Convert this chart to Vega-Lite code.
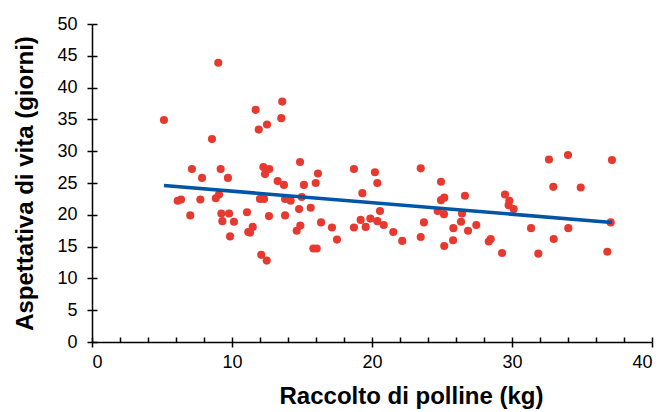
{
  "$schema": "https://vega.github.io/schema/vega-lite/v6.json",
  "width": 560,
  "height": 318,
  "autosize": "none",
  "padding": {"left": 92, "top": 24, "right": 16, "bottom": 70},
  "background": "white",
  "config": {
    "view": {"stroke": null},
    "font": "Liberation Sans",
    "axis": {
      "grid": false,
      "domainColor": "black",
      "tickColor": "black",
      "labelColor": "black",
      "titleColor": "black",
      "labelFont": "Liberation Sans",
      "titleFont": "Liberation Sans",
      "domainWidth": 1.5,
      "tickWidth": 1.5
    }
  },
  "datasets": {
    "points": [
      {"pollen": 9.02, "life": 43.9}, {"pollen": 5.14, "life": 34.9}, {"pollen": 8.57, "life": 31.9},
      {"pollen": 11.69, "life": 36.5}, {"pollen": 13.59, "life": 37.8}, {"pollen": 13.52, "life": 35.2},
      {"pollen": 12.5, "life": 34.2}, {"pollen": 11.91, "life": 33.4}, {"pollen": 14.86, "life": 28.3},
      {"pollen": 7.14, "life": 27.2}, {"pollen": 7.86, "life": 25.8}, {"pollen": 9.19, "life": 27.2},
      {"pollen": 9.71, "life": 25.8}, {"pollen": 12.24, "life": 27.5}, {"pollen": 12.66, "life": 27.2},
      {"pollen": 12.36, "life": 26.4}, {"pollen": 13.26, "life": 25.3}, {"pollen": 13.71, "life": 24.7},
      {"pollen": 6.12, "life": 22.2}, {"pollen": 6.36, "life": 22.4}, {"pollen": 7.74, "life": 22.4},
      {"pollen": 8.84, "life": 22.6}, {"pollen": 9.07, "life": 23.2}, {"pollen": 12.0, "life": 22.5},
      {"pollen": 12.29, "life": 22.5}, {"pollen": 13.79, "life": 22.5}, {"pollen": 14.19, "life": 22.2},
      {"pollen": 7.02, "life": 19.9}, {"pollen": 9.24, "life": 20.2}, {"pollen": 9.79, "life": 20.2},
      {"pollen": 9.31, "life": 19.0}, {"pollen": 10.14, "life": 18.9}, {"pollen": 11.07, "life": 20.4},
      {"pollen": 12.64, "life": 19.8}, {"pollen": 13.79, "life": 19.9}, {"pollen": 11.48, "life": 18.1},
      {"pollen": 11.16, "life": 17.3}, {"pollen": 11.29, "life": 17.2}, {"pollen": 9.86, "life": 16.6},
      {"pollen": 14.62, "life": 17.5}, {"pollen": 12.09, "life": 13.7}, {"pollen": 12.48, "life": 12.8},
      {"pollen": 16.14, "life": 26.5}, {"pollen": 15.14, "life": 24.7}, {"pollen": 15.98, "life": 25.0},
      {"pollen": 14.98, "life": 22.8}, {"pollen": 14.79, "life": 20.9}, {"pollen": 15.62, "life": 21.1},
      {"pollen": 16.36, "life": 18.8}, {"pollen": 14.88, "life": 18.3}, {"pollen": 17.14, "life": 18.0},
      {"pollen": 17.5, "life": 16.1}, {"pollen": 15.81, "life": 14.7}, {"pollen": 16.05, "life": 14.7},
      {"pollen": 18.71, "life": 27.2}, {"pollen": 20.21, "life": 26.7}, {"pollen": 20.38, "life": 25.0},
      {"pollen": 19.31, "life": 23.4}, {"pollen": 20.57, "life": 20.6}, {"pollen": 19.19, "life": 19.2},
      {"pollen": 19.88, "life": 19.4}, {"pollen": 20.38, "life": 19.0}, {"pollen": 20.84, "life": 18.4},
      {"pollen": 18.71, "life": 18.0}, {"pollen": 19.55, "life": 18.1}, {"pollen": 21.52, "life": 17.3},
      {"pollen": 22.16, "life": 15.9}, {"pollen": 23.48, "life": 27.3}, {"pollen": 23.71, "life": 18.8},
      {"pollen": 23.48, "life": 16.5}, {"pollen": 24.93, "life": 25.2}, {"pollen": 24.93, "life": 22.3},
      {"pollen": 25.16, "life": 22.7}, {"pollen": 24.69, "life": 20.6}, {"pollen": 25.14, "life": 20.1},
      {"pollen": 26.64, "life": 23.0}, {"pollen": 26.43, "life": 20.2}, {"pollen": 26.36, "life": 18.9},
      {"pollen": 25.81, "life": 17.9}, {"pollen": 26.86, "life": 17.5}, {"pollen": 27.45, "life": 18.4},
      {"pollen": 25.79, "life": 16.0}, {"pollen": 25.16, "life": 15.1}, {"pollen": 28.48, "life": 16.2},
      {"pollen": 28.34, "life": 15.8}, {"pollen": 29.29, "life": 14.0}, {"pollen": 29.5, "life": 23.2},
      {"pollen": 29.81, "life": 22.2}, {"pollen": 29.76, "life": 21.5}, {"pollen": 30.12, "life": 20.9},
      {"pollen": 31.36, "life": 17.9}, {"pollen": 31.88, "life": 13.9}, {"pollen": 32.64, "life": 28.7},
      {"pollen": 34.0, "life": 29.4}, {"pollen": 37.14, "life": 28.6}, {"pollen": 32.95, "life": 24.4},
      {"pollen": 34.91, "life": 24.3}, {"pollen": 37.05, "life": 18.8}, {"pollen": 34.02, "life": 17.9},
      {"pollen": 32.98, "life": 16.2}, {"pollen": 36.81, "life": 14.2}
    ],
    "trend": [
      {"pollen": 5.14, "life": 24.6},
      {"pollen": 37.14, "life": 18.8}
    ]
  },
  "layer": [
    {
      "data": {"name": "points"},
      "mark": {"type": "circle", "size": 66, "color": "#e63a30", "opacity": 1},
      "encoding": {
        "x": {
          "field": "pollen", "type": "quantitative",
          "scale": {"domain": [0, 40], "nice": false},
          "axis": {
            "orient": "bottom", "values": [0, 10, 20, 30, 40], "tickSize": 5,
            "labelFontSize": 18, "labelPadding": 6,
            "title": "Raccolto di polline (kg)", "titleFontSize": 24, "titleFontWeight": "bold",
            "titlePadding": 13, "titleX": 319
          }
        },
        "y": {
          "field": "life", "type": "quantitative",
          "scale": {"domain": [0, 50], "nice": false},
          "axis": {
            "orient": "left", "values": [0, 5, 10, 15, 20, 25, 30, 35, 40, 45, 50], "tickSize": 5,
            "labelFontSize": 18, "labelPadding": 10,
            "title": "Aspettativa di vita (giorni)", "titleFontSize": 24, "titleFontWeight": "bold", "titlePadding": 19
          }
        }
      }
    },
    {
      "data": {"name": "trend"},
      "mark": {"type": "line", "color": "#0055a4", "strokeWidth": 3.5},
      "encoding": {
        "x": {
          "field": "pollen", "type": "quantitative",
          "scale": {"domain": [0, 40], "nice": false},
          "axis": {
            "orient": "top", "offset": -318, "values": [0, 2, 4, 6, 8, 10, 12, 14, 16, 18, 20, 22, 24, 26, 28, 30, 32, 34, 36, 38, 40],
            "tickSize": 5, "labels": false, "domain": false, "title": null
          }
        },
        "y": {
          "field": "life", "type": "quantitative",
          "scale": {"domain": [0, 50], "nice": false},
          "axis": {
            "orient": "right", "offset": -560, "values": [0, 5, 10, 15, 20, 25, 30, 35, 40, 45, 50],
            "tickSize": 5, "labels": false, "domain": false, "title": null
          }
        }
      }
    }
  ],
  "resolve": {"axis": {"x": "independent", "y": "independent"}}
}
